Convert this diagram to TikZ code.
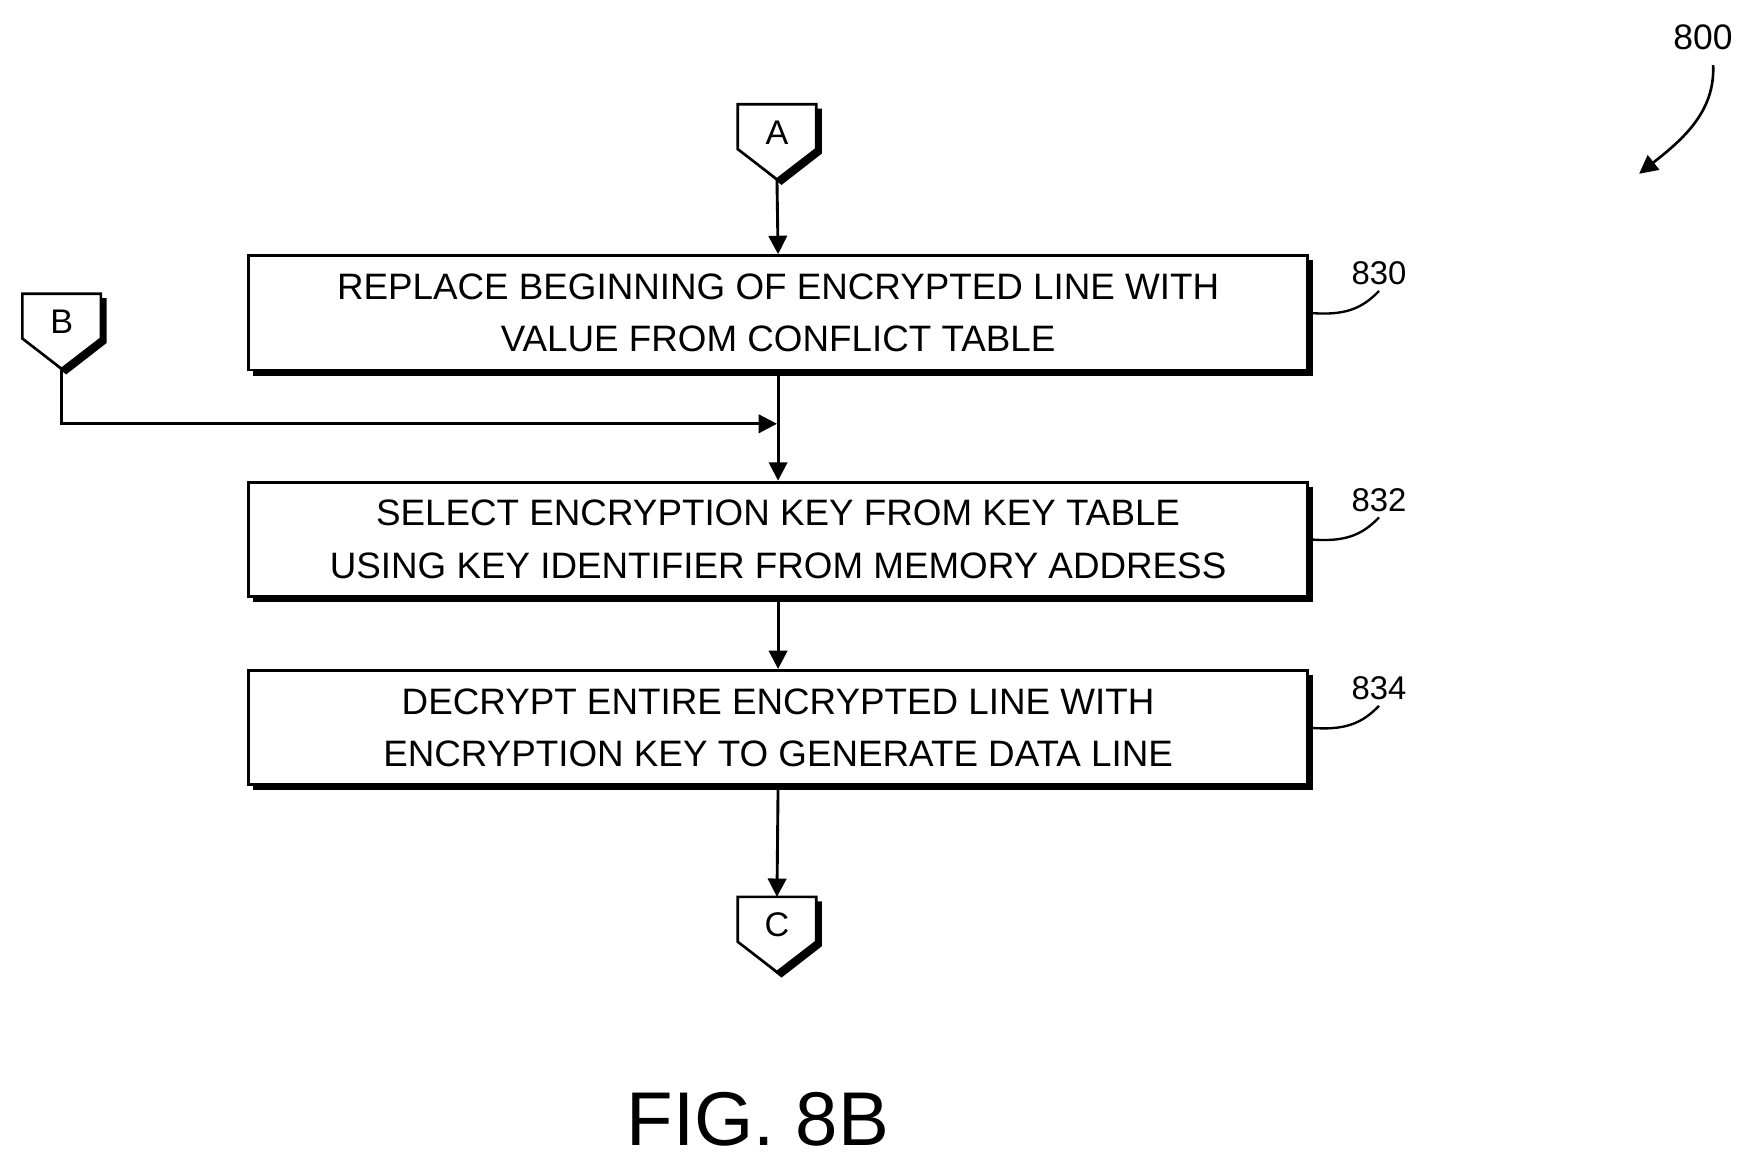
\documentclass[tikz,border=0pt]{standalone}
\usepackage{fontspec}
\setmainfont{Liberation Sans}
\begin{document}
\begin{tikzpicture}[x=0.03cm,y=-0.03cm,line width=2.2pt,
  box/.style={draw,fill=white,minimum width=944*0.03cm,minimum height=102*0.03cm,align=center,font=\fontsize{28}{40}\selectfont,inner sep=0pt},
  shadow/.style={fill=black},
  lbl/.style={font=\fontsize{25}{30}\selectfont},
  arr/.style={-{Triangle[length=14pt,width=14pt]}}]
\useasboundingbox (0,0) rectangle (1560,1035.5);
\usetikzlibrary{arrows.meta}
% shadows
\fill (226,232) rectangle (1171,335);
\fill (226,434) rectangle (1171,537);
\fill (226,602) rectangle (1171,705);
\node[box] (b830) at (694,279) {REPLACE BEGINNING OF ENCRYPTED LINE WITH\\VALUE FROM CONFLICT TABLE};
\node[box] (b832) at (694,481) {SELECT ENCRYPTION KEY FROM KEY TABLE\\USING KEY IDENTIFIER FROM MEMORY ADDRESS};
\node[box] (b834) at (694,649) {DECRYPT ENTIRE ENCRYPTED LINE WITH\\ENCRYPTION KEY TO GENERATE DATA LINE};
% connectors
\newcommand{\offpage}[4]{% name, cx, top, label
  \fill (#2-35+5,#3+4) -- (#2+35+5,#3+4) -- (#2+35+5,#3+44) -- (#2+4,#3+72) -- (#2-35+5,#3+44) -- cycle;
  \draw[fill=white,line width=2pt] (#2-35,#3) -- (#2+35,#3) -- (#2+35,#3+40) -- (#2,#3+67) -- (#2-35,#3+40) -- cycle;
  \coordinate (#1top) at (#2,#3); \coordinate (#1bot) at (#2,#3+67);
  \node[font=\fontsize{26}{30}\selectfont] (#1) at (#2,#3+25) {#4};}
\offpage{A}{693}{93}{A}
\offpage{B}{55}{262}{B}
\offpage{C}{693}{800}{C}
\draw[arr] (Abot) -- (b830.north);
\draw[arr] (b830.south) -- (b832.north);
\coordinate (j) at (693,378);
\draw[arr] (Bbot) |- (j);
\draw[arr] (b832.south) -- (b834.north);
\draw[arr] (b834.south) -- (Ctop);
% labels
\node[lbl] (l830) at (1230,244) {830};
\node[lbl] (l832) at (1230,446) {832};
\node[lbl] (l834) at (1230,614) {834};
\draw[line width=1.8pt] (b830.east) ++(0,0) .. controls (1200,282) and (1215,275) .. (l830.south);
\draw[line width=1.8pt] (b832.east) .. controls (1200,484) and (1215,477) .. (l832.south);
\draw[line width=1.8pt] (b834.east) .. controls (1200,652) and (1215,645) .. (l834.south);
\node[lbl,font=\fontsize{27}{30}\selectfont] (n800) at (1519,33) {800};
\coordinate (t800) at (1462,155);
\draw[arr,line width=2pt] (1528,58) .. controls (1530,100) and (1500,125) .. (t800);
\node[font=\fontsize{58}{60}\selectfont] (fig) at (676,998) {FIG. 8B};
\end{tikzpicture}
\end{document}
